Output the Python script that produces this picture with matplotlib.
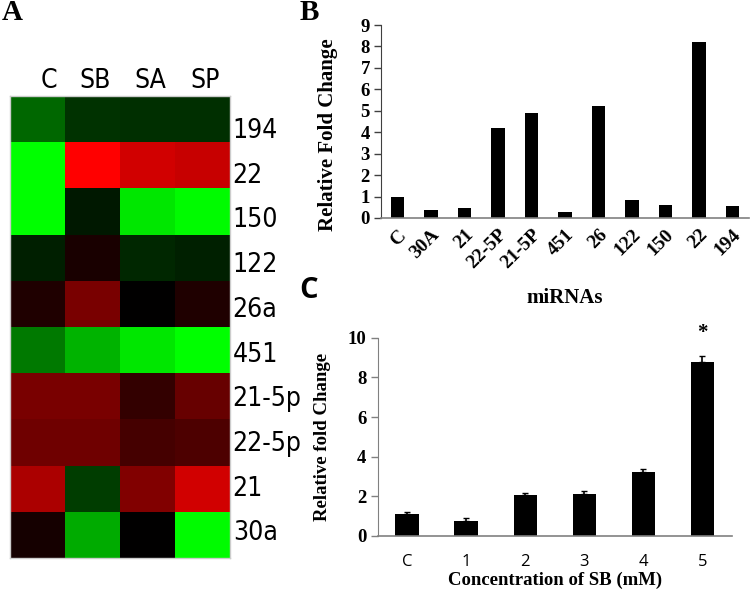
import numpy as np
import matplotlib
matplotlib.use('Agg')
import matplotlib.pyplot as plt
from matplotlib.colors import LinearSegmentedColormap

# ── Data ─────────────────────────────────────────────────────
# Panel A: heatmap (negative = green / down, positive = red / up)
heat_cols = ['C', 'SB', 'SA', 'SP']
heat_rows = ['194', '22', '150', '122', '26a', '451', '21-5p', '22-5p', '21', '30a']
heat_vals = np.array([
    [-0.40, -0.20, -0.18, -0.18],
    [-1.00,  1.00,  0.82,  0.78],
    [-1.00, -0.10, -0.90, -0.98],
    [-0.12,  0.10, -0.15, -0.13],
    [ 0.12,  0.47,  0.00,  0.12],
    [-0.47, -0.70, -0.90, -1.00],
    [ 0.47,  0.47,  0.20,  0.40],
    [ 0.43,  0.43,  0.27,  0.30],
    [ 0.67, -0.24,  0.50,  0.82],
    [ 0.08, -0.67,  0.00, -0.98],
])

# Panel B: relative fold change per miRNA
mirnas = ['C', '30A', '21', '22-5P', '21-5P', '451', '26', '122', '150', '22', '194']
fold_b = [1.0, 0.38, 0.45, 4.2, 4.88, 0.3, 5.2, 0.85, 0.6, 8.2, 0.55]

# Panel C: fold change vs SB concentration
conc = ['C', '1', '2', '3', '4', '5']
fold_c = [1.12, 0.74, 2.08, 2.1, 3.22, 8.75]
err_c = [0.08, 0.15, 0.08, 0.15, 0.17, 0.35]

SERIF = 'Liberation Serif'
W, H = 750, 596


def rect(x0, y0, x1, y1):
    # pixel box (top-left origin) -> figure fraction
    return [x0 / W, 1 - y1 / H, (x1 - x0) / W, (y1 - y0) / H]


fig = plt.figure(figsize=(7.5, 5.96), dpi=100)

# ── Panel A ──────────────────────────────────────────────────
cmap = LinearSegmentedColormap.from_list('gkr', ['#00ff00', '#000000', '#ff0000'])
axA = fig.add_axes(rect(10, 96, 230, 558))
axA.imshow(heat_vals, cmap=cmap, vmin=-1, vmax=1, aspect='auto',
           interpolation='nearest')
axA.set_xticks([])
axA.set_yticks([])
for s in axA.spines.values():
    s.set_color('#cccccc')
    s.set_linewidth(1.0)
lab_font = dict(fontsize=19, family='DejaVu Sans', fontstretch='condensed')
for i, c in enumerate(heat_cols):
    axA.text(i + (0.2 if i == 0 else 0.05), -0.55, c, ha='center', va='bottom',
             **lab_font)
row_y = 0.758 + 0.9675 * np.arange(len(heat_rows)) - 0.5
for y, r in zip(row_y, heat_rows):
    axA.text(3.55, y, r, ha='left', va='center', **lab_font)
fig.text(2 / W, 1 - 13 / H, 'A', fontsize=21, fontweight='bold',
         family=SERIF, va='center', ha='left')

# ── Panel B ──────────────────────────────────────────────────
axB = fig.add_axes(rect(381, 25, 749, 218))
xb = np.arange(len(mirnas))
axB.bar(xb, fold_b, width=0.4, color='black')
axB.set_xlim(-0.5, len(mirnas) - 0.5)
axB.set_ylim(0, 9)
axB.set_yticks(range(0, 10))
axB.set_xticks(xb)
axB.set_xticklabels(mirnas, rotation=45, ha='right', rotation_mode='anchor',
                    fontsize=14, fontweight='bold', family=SERIF)
axB.tick_params(axis='x', length=0, pad=6)
axB.tick_params(axis='y', length=5, width=1, color='#404040', pad=3)
for lab in axB.get_yticklabels():
    lab.set_fontweight('bold')
    lab.set_family(SERIF)
    lab.set_fontsize(13.5)
axB.spines['top'].set_visible(False)
axB.spines['right'].set_visible(False)
axB.spines['left'].set_color('#404040')
axB.spines['bottom'].set_color('#808080')
axB.spines['bottom'].set_linewidth(1.2)
axB.set_ylabel('Relative Fold Change', fontsize=15, fontweight='bold',
               family=SERIF)
axB.yaxis.set_label_coords(-0.118, 0.43)
fig.text(565 / W, 1 - 298 / H, 'miRNAs', fontsize=15, fontweight='bold',
         family=SERIF, ha='center', va='center')
fig.text(300 / W, 1 - 13 / H, 'B', fontsize=21, fontweight='bold',
         family=SERIF, va='center', ha='left')

# ── Panel C ──────────────────────────────────────────────────
axC = fig.add_axes(rect(377.7, 337.7, 732, 536))
xc = np.arange(len(conc))
axC.bar(xc, fold_c, width=0.4, color='black',
        yerr=[np.zeros(len(err_c)), err_c], capsize=2.5,
        error_kw=dict(ecolor='black', elinewidth=1.2, capthick=1))
axC.set_xlim(-0.5, len(conc) - 0.5)
axC.set_ylim(0, 10)
axC.set_yticks(range(0, 11, 2))
axC.set_xticks(xc)
axC.set_xticklabels(conc, fontsize=12, family='Open Sans')
axC.tick_params(axis='x', length=0, pad=13)
axC.tick_params(axis='y', length=5, width=1, color='#808080', pad=3)
for lab in axC.get_yticklabels():
    lab.set_fontweight('bold')
    lab.set_family(SERIF)
    lab.set_fontsize(13.5)
axC.spines['top'].set_visible(False)
axC.spines['right'].set_visible(False)
axC.spines['left'].set_color('#808080')
axC.spines['bottom'].set_color('#808080')
axC.spines['bottom'].set_linewidth(1.2)
axC.set_ylabel('Relative fold Change', fontsize=13.5, fontweight='bold',
               family=SERIF)
axC.yaxis.set_label_coords(-0.132, 0.5)
axC.set_xlabel('Concentration of SB (mM)', fontsize=13.5, fontweight='bold',
               family=SERIF, labelpad=1)
axC.text(xc[-1], fold_c[-1] + err_c[-1] + 1.15, '*', ha='center', va='center',
         fontsize=15, fontweight='bold', family=SERIF)
fig.text(299 / W, 1 - 290 / H, 'C', fontsize=21, fontweight='bold',
         family='Open Sans', va='center', ha='left')

fig.savefig('out.png', dpi=100)
